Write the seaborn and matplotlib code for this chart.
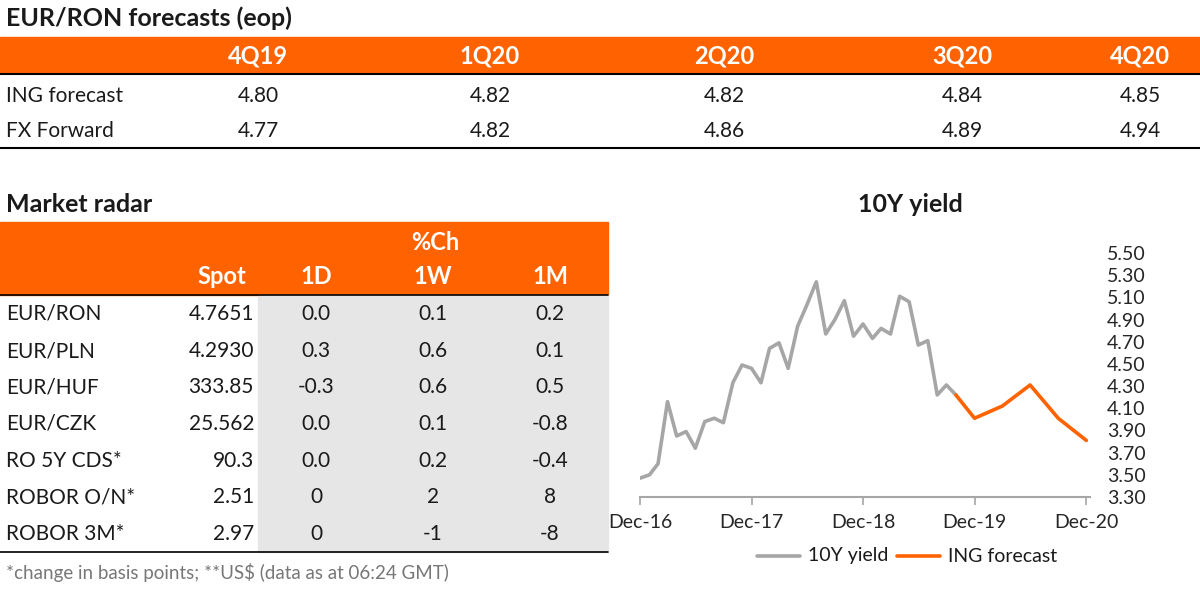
import numpy as np
import pandas as pd
import matplotlib
matplotlib.use("Agg")
import matplotlib.pyplot as plt
import seaborn as sns
from matplotlib.patches import Rectangle
from matplotlib.lines import Line2D

# ---- data ----
fc_quarters = ["4Q19", "1Q20", "2Q20", "3Q20", "4Q20"]
ing_forecast = ["4.80", "4.82", "4.82", "4.84", "4.85"]
fx_forward = ["4.77", "4.82", "4.86", "4.89", "4.94"]

radar_names = ["EUR/RON", "EUR/PLN", "EUR/HUF", "EUR/CZK", "RO 5Y CDS*", "ROBOR O/N*", "ROBOR 3M*"]
radar_spot = ["4.7651", "4.2930", "333.85", "25.562", "90.3", "2.51", "2.97"]
radar_1d = ["0.0", "0.3", "-0.3", "0.0", "0.0", "0", "0"]
radar_1w = ["0.1", "0.6", "0.6", "0.1", "0.2", "2", "-1"]
radar_1m = ["0.2", "0.1", "0.5", "-0.8", "-0.4", "8", "-8"]

yield_hist = [3.47, 3.50, 3.60, 4.16, 3.85, 3.89, 3.74, 3.98, 4.01, 3.97, 4.33, 4.49,
              4.46, 4.33, 4.64, 4.69, 4.46, 4.84, 5.03, 5.24, 4.77, 4.90, 5.07, 4.75,
              4.86, 4.73, 4.82, 4.77, 5.11, 5.06, 4.67, 4.71, 4.22, 4.31, 4.22]
hist_dates = pd.date_range("2016-12-31", periods=len(yield_hist), freq="ME")
fc_dates = pd.to_datetime(["2019-10-31", "2019-12-31", "2020-03-31", "2020-06-30", "2020-09-30", "2020-12-31"])
fc_values = [4.22, 4.01, 4.12, 4.31, 4.01, 3.81]

ORANGE = "#FF6200"
GRAY = "#A6A6A6"
W, H = 1200, 591

sns.set_theme(style="white")
plt.rcParams['font.family'] = ['Lato', 'DejaVu Sans']
fig = plt.figure(figsize=(12, 5.91), dpi=100)
bg = fig.add_axes([0, 0, 1, 1])
bg.set_xlim(0, W); bg.set_ylim(H, 0); bg.axis("off")

def txt(x, y, s, **kw):
    kw.setdefault("fontsize", 15)
    kw.setdefault("va", "center")
    kw.setdefault("color", "#1a1a1a")
    bg.text(x, y, s, **kw)

# top table
txt(6, 18, "EUR/RON forecasts (eop)", fontsize=18, fontweight="bold")
bg.add_patch(Rectangle((0, 37), W, 36, color=ORANGE))
xs = [258, 490, 724, 962, 1140]
for x, q in zip(xs, fc_quarters):
    txt(x, 56, q, ha="center", color="white", fontsize=17, fontweight="bold")
bg.plot([0, W], [74, 74], color="black", lw=1.5)
txt(6, 96, "ING forecast")
txt(6, 131, "FX Forward")
for x, a, b in zip(xs, ing_forecast, fx_forward):
    txt(x, 96, a, ha="center")
    txt(x, 131, b, ha="center")
bg.plot([0, W], [148, 148], color="black", lw=1.5)

# market radar
txt(6, 205, "Market radar", fontsize=18, fontweight="bold")
bg.add_patch(Rectangle((0, 222), 608, 73, color=ORANGE))
bg.add_patch(Rectangle((258, 295), 350, 257, color="#E6E6E6"))
txt(435, 243, "%Ch", ha="center", color="white", fontsize=17, fontweight="bold")
for x, h in zip([222, 316, 433, 550], ["Spot", "1D", "1W", "1M"]):
    txt(x, 277, h, ha="center", color="white", fontsize=17, fontweight="bold")
bg.plot([0, 608], [295, 295], color="black", lw=1.2)
rows_y = [314, 351, 387, 424, 461, 497, 534]
for i, y in enumerate(rows_y):
    txt(6, y, radar_names[i])
    txt(254, y, radar_spot[i], ha="right")
    txt(316, y, radar_1d[i], ha="center")
    txt(433, y, radar_1w[i], ha="center")
    txt(550, y, radar_1m[i], ha="center")
bg.plot([0, 608], [552, 552], color="black", lw=1.2)
txt(6, 572, "*change in basis points; **US$ (data as at 06:24 GMT)", color="#777777", fontsize=13.5)

# chart
txt(910, 205, "10Y yield", ha="center", fontsize=18, fontweight="bold")
ax = fig.add_axes([640 / W, 1 - 497 / H, (1090 - 640) / W, (497 - 253) / H])
ax.set_facecolor("none")
sns.lineplot(x=hist_dates, y=yield_hist, ax=ax, color=GRAY, lw=2.6)
sns.lineplot(x=fc_dates, y=fc_values, ax=ax, color=ORANGE, lw=2.6)
ax.set_ylim(3.3, 5.5)
ax.set_xlim(pd.Timestamp("2016-12-31"), pd.Timestamp("2021-01-12"))
ax.set_yticks(np.arange(3.3, 5.51, 0.2))
ax.set_yticklabels([f"{v:.2f}" for v in np.arange(3.3, 5.51, 0.2)], fontsize=14)
ax.yaxis.tick_right()
ax.tick_params(axis="y", length=0, pad=12)
xt = pd.to_datetime(["2016-12-31", "2017-12-31", "2018-12-31", "2019-12-31", "2020-12-31"])
ax.set_xticks(xt)
ax.set_xticklabels(["Dec-16", "Dec-17", "Dec-18", "Dec-19", "Dec-20"], fontsize=14)
ax.tick_params(axis="x", direction="out", length=6, width=1.2, color=GRAY, bottom=True, pad=6)
for s in ["top", "left", "right"]:
    ax.spines[s].set_visible(False)
ax.spines["bottom"].set_color(GRAY)
ax.spines["bottom"].set_linewidth(1.5)
ax.set_xlabel(""); ax.set_ylabel("")
ax.grid(False)

# legend
bg.plot([757, 800], [556, 556], color=GRAY, lw=2.6)
txt(808, 556, "10Y yield", fontsize=14)
bg.plot([897, 940], [556, 556], color=ORANGE, lw=2.6)
txt(948, 556, "ING forecast", fontsize=14)

fig.savefig("out.png", dpi=100)
